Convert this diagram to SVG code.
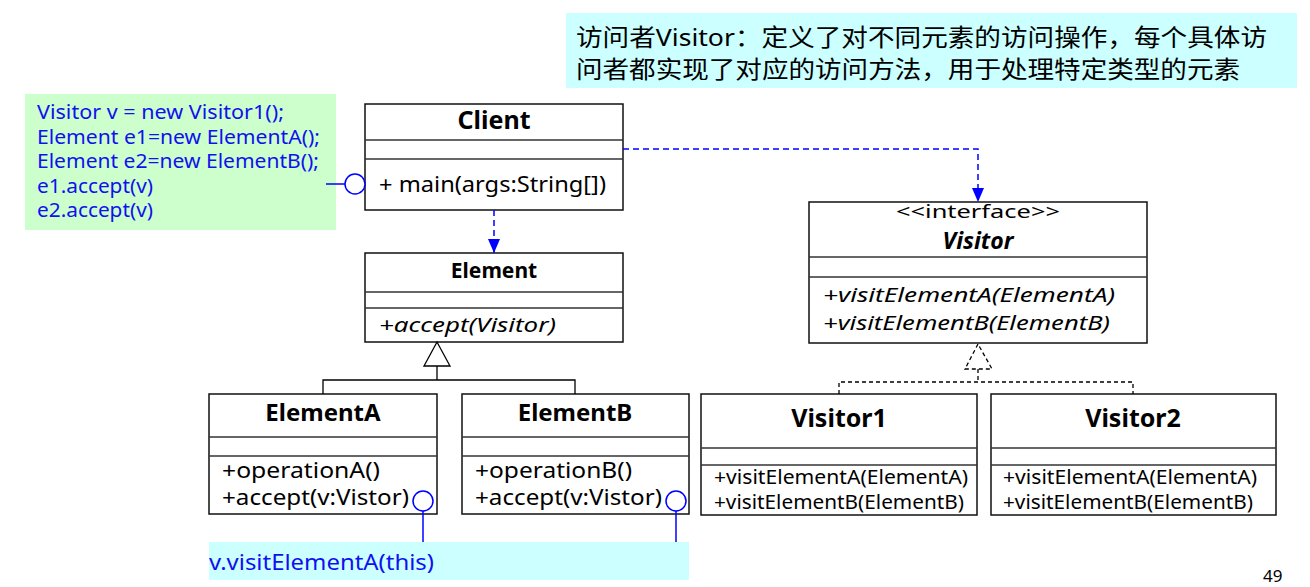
<svg xmlns="http://www.w3.org/2000/svg" width="1310" height="587" viewBox="0 0 1310 587">
<style>
text{font-family:"Noto Sans","Noto Sans CJK SC",sans-serif;fill:#000}
.box{fill:#fff;stroke:#111;stroke-width:1.5}
.div{stroke:#333;stroke-width:1.5}
.title{font-weight:bold;text-anchor:middle}
.blue{fill:#1010f0}
.bl{stroke:#0000ff;stroke-width:1.5;fill:none}
.bd{stroke:#0000ff;stroke-width:1.5;fill:none;stroke-dasharray:6 4}
.kd{stroke:#000;stroke-width:1.3;fill:none;stroke-dasharray:4 3}
.k{stroke:#000;stroke-width:1.3;fill:none}
.circ{fill:#fff;stroke:#0000ff;stroke-width:1.5}
</style>
<defs>
<marker id="ba" markerUnits="userSpaceOnUse" markerWidth="14" markerHeight="14" refX="14" refY="7" orient="auto">
<path d="M0,1 L14,7 L0,13 z" fill="#0000ff"/>
</marker>
</defs>

<g id="note-top">
<rect x="566" y="13" width="731" height="75" fill="#ccffff"/>
<text x="576" y="46" font-size="24" textLength="691" lengthAdjust="spacingAndGlyphs">访问者Visitor：定义了对不同元素的访问操作，每个具体访</text>
<text x="576" y="78" font-size="24" textLength="664" lengthAdjust="spacingAndGlyphs">问者都实现了对应的访问方法，用于处理特定类型的元素</text>
</g>

<g id="note-client">
<rect x="25" y="94" width="311" height="136" fill="#ccffcc"/>
<text class="blue" x="37" y="119" font-size="19" textLength="247" lengthAdjust="spacingAndGlyphs">Visitor v = new Visitor1();</text>
<text class="blue" x="37" y="144" font-size="19" textLength="283" lengthAdjust="spacingAndGlyphs">Element e1=new ElementA();</text>
<text class="blue" x="37" y="168" font-size="19" textLength="282" lengthAdjust="spacingAndGlyphs">Element e2=new ElementB();</text>
<text class="blue" x="37" y="193" font-size="19" textLength="116" lengthAdjust="spacingAndGlyphs">e1.accept(v)</text>
<text class="blue" x="37" y="217" font-size="19" textLength="116" lengthAdjust="spacingAndGlyphs">e2.accept(v)</text>
</g>

<g id="note-element">
<rect x="209" y="542" width="480" height="38" fill="#ccffff"/>
<text class="blue" x="209" y="570" font-size="21" textLength="225" lengthAdjust="spacingAndGlyphs">v.visitElementA(this)</text>
</g>

<g id="client">
<rect class="box" x="365" y="104" width="258" height="106"/>
<line class="div" x1="365" y1="140" x2="623" y2="140"/>
<line class="div" x1="365" y1="159" x2="623" y2="159"/>
<text class="title" x="494" y="129" font-size="25">Client</text>
<text x="379" y="192" font-size="21" textLength="227" lengthAdjust="spacingAndGlyphs">+ main(args:String[])</text>
</g>

<g id="element">
<rect class="box" x="365" y="253" width="258" height="89"/>
<line class="div" x1="365" y1="292" x2="623" y2="292"/>
<line class="div" x1="365" y1="308" x2="623" y2="308"/>
<text class="title" x="494" y="278" font-size="21">Element</text>
<text x="379" y="332" font-size="20" font-style="italic" textLength="177" lengthAdjust="spacingAndGlyphs">+accept(Visitor)</text>
</g>

<g id="elementA">
<rect class="box" x="209" y="394" width="228" height="120"/>
<line class="div" x1="209" y1="437" x2="437" y2="437"/>
<line class="div" x1="209" y1="456" x2="437" y2="456"/>
<text class="title" x="323" y="421" font-size="24">ElementA</text>
<text x="222" y="478" font-size="21" textLength="158" lengthAdjust="spacingAndGlyphs">+operationA()</text>
<text x="222" y="505" font-size="21" textLength="187" lengthAdjust="spacingAndGlyphs">+accept(v:Vistor)</text>
</g>

<g id="elementB">
<rect class="box" x="462" y="394" width="227" height="120"/>
<line class="div" x1="462" y1="437" x2="689" y2="437"/>
<line class="div" x1="462" y1="456" x2="689" y2="456"/>
<text class="title" x="575" y="421" font-size="24">ElementB</text>
<text x="475" y="478" font-size="21" textLength="157" lengthAdjust="spacingAndGlyphs">+operationB()</text>
<text x="475" y="505" font-size="21" textLength="187" lengthAdjust="spacingAndGlyphs">+accept(v:Vistor)</text>
</g>

<g id="visitor">
<rect class="box" x="809" y="202" width="338" height="141"/>
<line class="div" x1="809" y1="257" x2="1147" y2="257"/>
<line class="div" x1="809" y1="277" x2="1147" y2="277"/>
<text x="978" y="218" font-size="18" text-anchor="middle" textLength="164" lengthAdjust="spacingAndGlyphs">&lt;&lt;interface&gt;&gt;</text>
<text class="title" x="978" y="249" font-size="23" font-style="italic">Visitor</text>
<text x="823" y="302" font-size="20" font-style="italic" textLength="292" lengthAdjust="spacingAndGlyphs">+visitElementA(ElementA)</text>
<text x="823" y="330" font-size="20" font-style="italic" textLength="287" lengthAdjust="spacingAndGlyphs">+visitElementB(ElementB)</text>
</g>

<g id="visitor1">
<rect class="box" x="701" y="394" width="276" height="121"/>
<line class="div" x1="701" y1="448" x2="977" y2="448"/>
<line class="div" x1="701" y1="465" x2="977" y2="465" stroke-width="2"/>
<text class="title" x="839" y="427" font-size="25">Visitor1</text>
<text x="714" y="484" font-size="19" textLength="254" lengthAdjust="spacingAndGlyphs">+visitElementA(ElementA)</text>
<text x="714" y="509" font-size="19" textLength="250" lengthAdjust="spacingAndGlyphs">+visitElementB(ElementB)</text>
</g>

<g id="visitor2">
<rect class="box" x="991" y="394" width="285" height="121"/>
<line class="div" x1="991" y1="448" x2="1276" y2="448"/>
<line class="div" x1="991" y1="465" x2="1276" y2="465"/>
<text class="title" x="1133" y="427" font-size="25">Visitor2</text>
<text x="1003" y="484" font-size="19" textLength="254" lengthAdjust="spacingAndGlyphs">+visitElementA(ElementA)</text>
<text x="1003" y="509" font-size="19" textLength="250" lengthAdjust="spacingAndGlyphs">+visitElementB(ElementB)</text>
</g>

<g id="connectors">
<path class="bd" d="M623,149 H978 V202" marker-end="url(#ba)"/>
<path class="bd" d="M494,210 V253" marker-end="url(#ba)"/>
<polygon points="437,342 424,366 450,366" fill="#fff" stroke="#000" stroke-width="1.3"/>
<path class="k" d="M437,366 V380 M323,394 V380 H575 V394"/>
<polygon points="978,344 965,369 992,369" fill="#fff" stroke="#000" stroke-width="1.3" stroke-dasharray="4 3"/>
<path class="kd" d="M978,369 V382 M839,394 V382 H1133 V394"/>
<line class="bl" x1="326" y1="184" x2="345" y2="184"/>
<circle class="circ" cx="355" cy="184" r="10"/>
<line class="bl" x1="423" y1="511" x2="423" y2="542"/>
<circle class="circ" cx="423" cy="501" r="10"/>
<line class="bl" x1="676" y1="511" x2="676" y2="542"/>
<circle class="circ" cx="676" cy="501" r="10"/>
</g>

<text x="1263" y="582" font-size="17" font-family="Liberation Sans, sans-serif">49</text>
</svg>
